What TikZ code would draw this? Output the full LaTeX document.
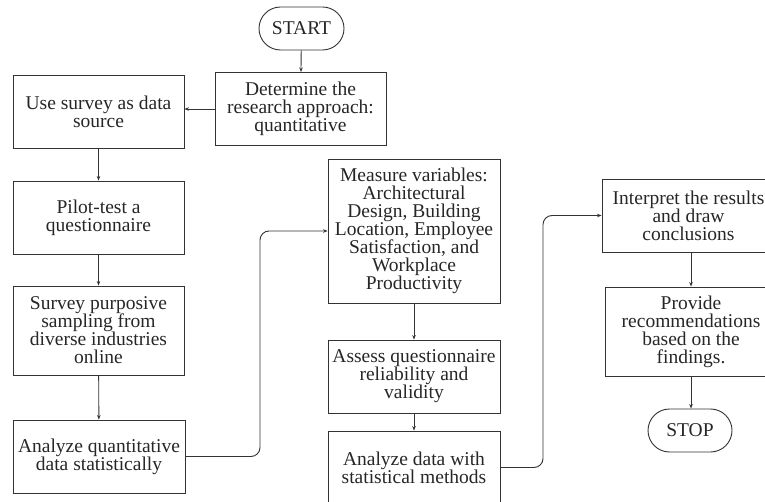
\documentclass[tikz,border=0pt]{standalone}
\usepackage{fontspec}
\setmainfont{Liberation Serif}
\usetikzlibrary{arrows.meta,shapes.misc}
\begin{document}
\begin{tikzpicture}[x=1pt,y=-1pt,
  line width=0.9pt,
  every node/.style={draw=black!80, line width=0.9pt, align=center, inner sep=1pt,
    font=\fontsize{19.5}{18}\selectfont, text=black!85},
  box/.style={rectangle, minimum width=#1, minimum height=73pt},
  box/.default=171pt,
  term/.style={rounded rectangle, minimum width=87pt, minimum height=43pt},
  arr/.style={draw=black!80, -{Stealth[length=4.5pt,width=3.5pt]}},
  conn/.style={arr, rounded corners=9pt}]
\useasboundingbox (0,0) rectangle (765,502);
\node[term] (start) at (301.5,28.5) {START};
\node[box] (det) at (300.5,109) {Determine the\\research approach:\\quantitative};
\node[box] (use) at (98.5,111.5) {Use survey as data\\source};
\node[box] (pilot) at (98.5,217.5) {Pilot-test a\\questionnaire};
\node[box, minimum height=89pt] (surv) at (98.5,330.5) {Survey purposive\\sampling from\\diverse industries\\online};
\node[box=172pt] (anq) at (99,456.5) {Analyze quantitative\\data statistically};
\node[box=172pt, minimum height=144pt] (meas) at (414,231) {Measure variables:\\Architectural\\Design, Building\\Location, Employee\\Satisfaction, and\\Workplace\\Productivity};
\node[box=172pt] (assess) at (414,376.5) {Assess questionnaire\\reliability and\\validity};
\node[box=172pt] (and) at (414,467.5) {Analyze data with\\statistical methods};
\node[box=173pt] (interp) at (688.5,215.5) {Interpret the results\\and draw\\conclusions};
\node[box=172pt, minimum height=89pt] (prov) at (691,331.5) {Provide\\recommendations\\based on the\\findings.};
\node[term, minimum width=86pt] (stop) at (690,430.5) {STOP};

\draw[arr] (start) -- (det);
\draw[arr] (det.west) -- (det.west -| use.east);
\draw[arr] (use) -- (pilot);
\draw[arr] (pilot) -- (surv);
\draw[arr] (surv) -- (anq);
\draw[arr] (meas) -- (assess);
\draw[arr] (assess) -- (and);
\draw[arr] (interp.south -| 691,0) -- (prov.north -| 691,0);
\draw[arr] (prov.south -| 691,0) -- (stop.north -| 691,0);
\draw[conn] (anq.east) -- (260,456.5) -- (260,231) -- (meas.west);
\draw[conn] (and.east) -- (543,467.5) -- (543,215.5) -- (interp.west);
\end{tikzpicture}
\end{document}
